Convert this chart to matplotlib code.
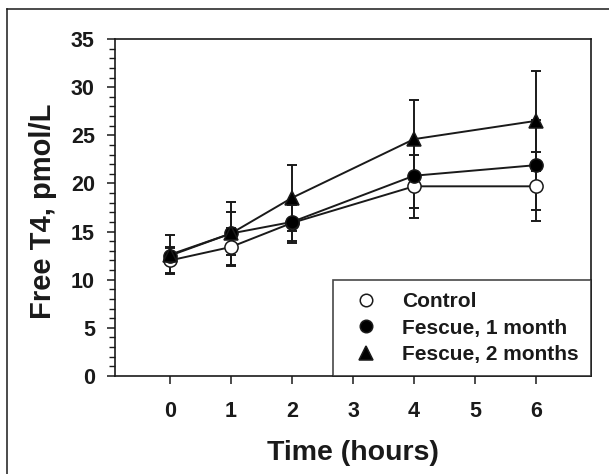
import matplotlib
matplotlib.use("Agg")
import matplotlib.pyplot as plt
from matplotlib.lines import Line2D
from matplotlib.ticker import MultipleLocator

# ---- data ----
time_hours = [0, 1, 2, 4, 6]
x_ticks = [0, 1, 2, 3, 4, 5, 6]
y_ticks = [0, 5, 10, 15, 20, 25, 30, 35]

control = [12.0, 13.4, 15.9, 19.7, 19.7]
control_err = [1.3, 2.0, 1.9, 3.3, 3.6]
fescue1 = [12.5, 14.8, 16.0, 20.8, 21.9]
fescue1_err = [0.9, 2.2, 2.2, 3.4, 4.7]
fescue2 = [12.6, 14.8, 18.5, 24.6, 26.5]
fescue2_err = [2.0, 3.3, 3.4, 4.1, 5.2]

labels = ["Control", "Fescue, 1 month", "Fescue, 2 months"]

plt.rcParams['font.family'] = ['Liberation Sans', 'DejaVu Sans']
plt.rcParams['font.weight'] = 'bold'

W, H = 609, 474
fig = plt.figure(figsize=(W / 100, H / 100), dpi=100)
ax = fig.add_axes([115 / W, 1 - 376 / H, (591 - 115) / W, (376 - 39) / H])

series = [
    (control, control_err, 'o', 'white'),
    (fescue1, fescue1_err, 'o', 'black'),
    (fescue2, fescue2_err, '^', 'black'),
]

lw = 1.4
for vals, errs, mk, fc in series:
    ax.errorbar(time_hours, vals, yerr=errs, fmt='none', ecolor='#1a1a1a',
                elinewidth=lw, capsize=3.5, capthick=lw, zorder=2)
for vals, errs, mk, fc in series:
    ax.plot(time_hours, vals, color='#1a1a1a', lw=lw, zorder=3)
handles = []
for (vals, errs, mk, fc), lab in zip(series, labels):
    ms = 9.5 if mk == 'o' else 10
    ax.plot(time_hours, vals, linestyle='none', marker=mk, markersize=ms,
            markerfacecolor=fc, markeredgecolor='#1a1a1a', markeredgewidth=1.1,
            zorder=4)
    handles.append(Line2D([], [], linestyle='none', marker=mk,
                          markersize=9 if mk == 'o' else 9.5,
                          markerfacecolor=fc, markeredgecolor='#1a1a1a',
                          markeredgewidth=1.1, label=lab))

ax.set_xlim(-0.9, 6.9)
ax.set_ylim(0, 35)
ax.set_xticks(x_ticks)
ax.set_yticks(y_ticks)
ax.yaxis.set_minor_locator(MultipleLocator(1))
ax.tick_params(axis='both', which='major', direction='out', length=6, width=1.1,
               labelsize=15.5, color='#1a1a1a', labelcolor='#1a1a1a')
ax.tick_params(axis='y', which='minor', direction='out', length=4, width=1.0,
               color='#1a1a1a')
ax.tick_params(axis='x', which='major', pad=12)
ax.tick_params(axis='y', which='major', pad=8.5)
for s in ax.spines.values():
    s.set_linewidth(1.2)
    s.set_color('#1a1a1a')

ax.set_xlabel("Time (hours)", fontsize=20.5, fontweight='bold', color='#1a1a1a')
ax.set_ylabel("Free T4, pmol/L", fontsize=21, fontweight='bold', color='#1a1a1a')
ax.xaxis.set_label_coords(0.5, -(440 - 376) / 337)
ax.xaxis.label.set_va('top')
ax.yaxis.set_label_coords((57 - 115) / 476, 0.49)

leg = ax.legend(handles=handles, loc='lower right', bbox_to_anchor=(1.0, 0.0),
                borderaxespad=0, frameon=True, fancybox=False,
                prop={'weight': 'bold', 'size': 15},
                handlelength=2.08, handletextpad=0.69, labelspacing=0.36,
                borderpad=0.57)
fr = leg.get_frame()
fr.set_edgecolor('#1a1a1a')
fr.set_linewidth(1.2)
for t in leg.get_texts():
    t.set_color('#1a1a1a')

# outer border (top and left only)
fig.add_artist(Line2D([7 / W, 7 / W], [0, 1 - 9 / H], transform=fig.transFigure,
                      color='#1a1a1a', lw=1.1))
fig.add_artist(Line2D([7 / W, 1], [1 - 9 / H, 1 - 9 / H], transform=fig.transFigure,
                      color='#1a1a1a', lw=1.1))

fig.savefig("out.png", dpi=100)
